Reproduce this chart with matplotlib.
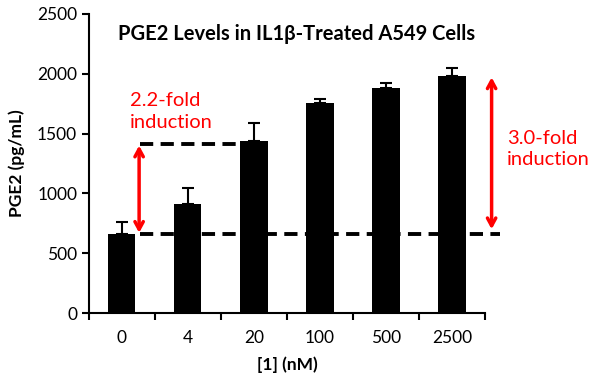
import numpy as np
from matplotlib import pyplot as plt

doses = ['0', '4', '20', '100', '500', '2500']
pge2 = [660, 915, 1440, 1755, 1880, 1980]
err = [100, 130, 145, 35, 40, 65]
low_level = 660
high_level = 1410

plt.rcParams['font.family'] = ['Lato', 'DejaVu Sans']

fig = plt.figure(figsize=(6.01, 3.86), dpi=100)
ax = fig.add_axes([0.148, 0.189, 0.659, 0.775])

x = np.arange(len(doses))
ax.bar(x, pge2, width=0.41, color='black', zorder=2)
ax.errorbar(x, pge2, yerr=[np.zeros(len(err)), err], fmt='none',
            ecolor='black', elinewidth=1.5, capsize=4, capthick=1.5, zorder=1)

# dashed reference levels
dash = (0, (3.4, 1.9))
ax.plot([0.27, 2.22], [high_level, high_level], ls=dash,
        color='black', lw=2.8, zorder=3, clip_on=False)
ax.plot([0.27, 5.73], [low_level, low_level], ls=dash,
        color='black', lw=2.8, zorder=3, clip_on=False)

# fold-induction arrows
arrow = dict(arrowstyle='<->,head_length=0.55,head_width=0.3', color='red',
             lw=2.5, shrinkA=0, shrinkB=0)
ax.annotate('', xy=(0.26, low_level + 10), xytext=(0.26, high_level - 10),
            arrowprops=arrow, zorder=4, annotation_clip=False)
ax.annotate('', xy=(5.6, low_level + 40), xytext=(5.6, 1970),
            arrowprops=arrow, zorder=4, annotation_clip=False)
ax.text(0.12, 1685, '2.2-fold\ninduction', color='red', fontsize=14.5,
        ha='left', va='center', linespacing=1.3)
ax.text(5.83, 1370, '3.0-fold\ninduction', color='red', fontsize=14.5,
        ha='left', va='center', linespacing=1.3, clip_on=False)

ax.set_title('PGE2 Levels in IL1\u03b2-Treated A549 Cells', fontsize=14.5,
             fontweight='bold', x=0.523, y=0.885)

ax.set_xlim(-0.5, 5.5)
ax.set_ylim(0, 2500)
ax.set_yticks(np.arange(0, 2501, 500))
ax.set_xticks(x)
ax.set_xticklabels(doses, fontsize=12.5)
ax.set_xticks(np.arange(-0.5, 5.6, 1), minor=True)
ax.tick_params(axis='x', which='major', length=0, pad=12)
ax.tick_params(axis='x', which='minor', length=5, width=1.5, direction='out')
ax.tick_params(axis='y', length=5, width=1.5, direction='out', labelsize=12.5)
for s in ['top', 'right']:
    ax.spines[s].set_visible(False)
for s in ['left', 'bottom']:
    ax.spines[s].set_linewidth(1.5)

ax.set_ylabel('PGE2 (pg/mL)', fontsize=12.5, fontweight='bold', labelpad=9)
ax.set_xlabel('[1] (nM)', fontsize=12.5, fontweight='bold', labelpad=8)

fig.savefig('out.png', dpi=100)
